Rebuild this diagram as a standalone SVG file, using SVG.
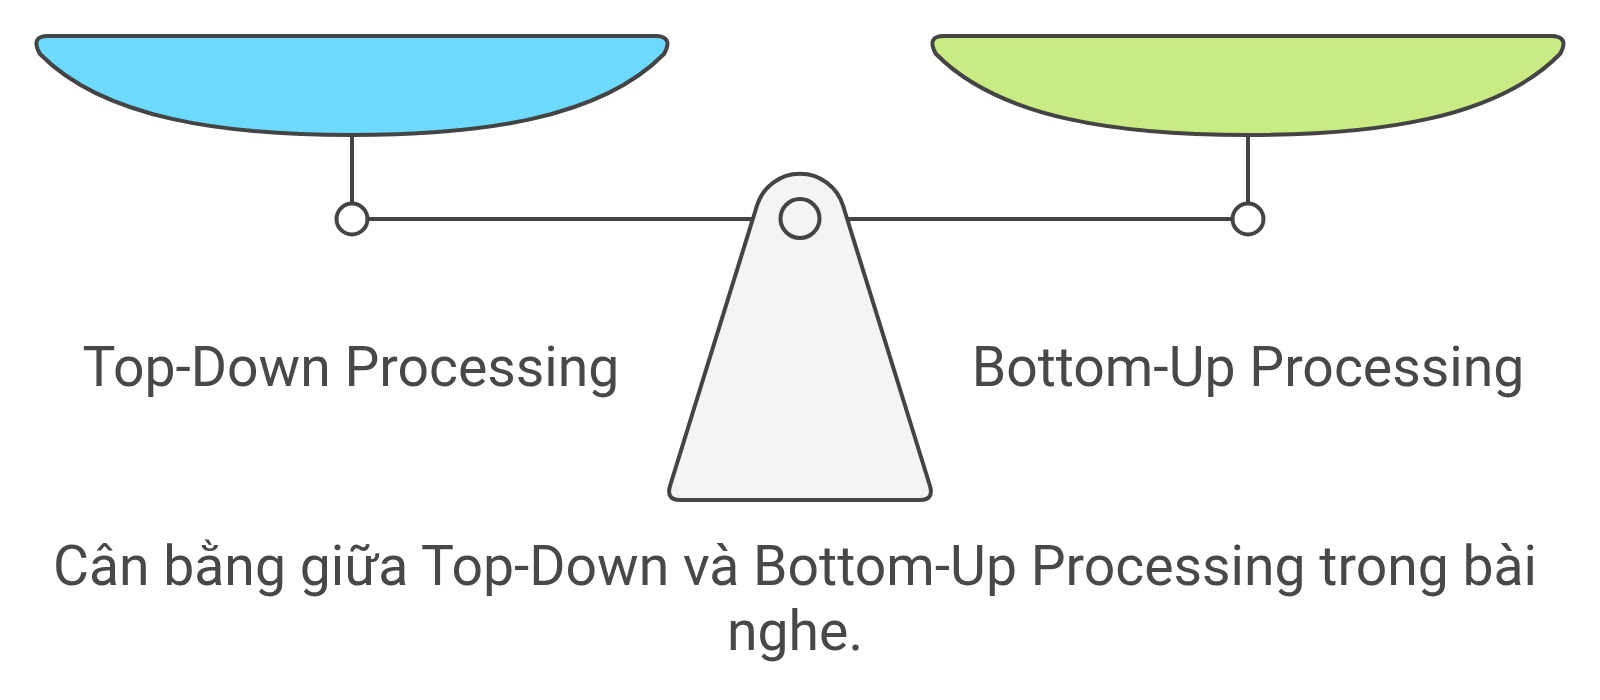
<svg xmlns="http://www.w3.org/2000/svg" width="1600" height="700" viewBox="0 0 1600 700">
  <style>
    .ln { fill: none; stroke: #444444; stroke-width: 4; stroke-linecap: round; stroke-linejoin: round; }
    .sh { stroke: #444444; stroke-width: 4; stroke-linejoin: round; }
    .ring { fill: #ffffff; stroke: #444444; stroke-width: 4; }
    .lbl { font-family: Roboto, "Liberation Sans", sans-serif; font-size: 55.3px; fill: #484848; text-anchor: middle; }
  </style>
  <rect width="1600" height="700" fill="#ffffff"/>
  <g id="connectors">
    <line class="ln" x1="352" y1="135" x2="352" y2="203"/>
    <line class="ln" x1="1248" y1="135" x2="1248" y2="203"/>
    <line class="ln" x1="368" y1="219" x2="757" y2="219"/>
    <line class="ln" x1="843" y1="219" x2="1232" y2="219"/>
  </g>
  <g id="pan-left">
    <path class="sh" fill="#6DD9FD" d="M 48,36 L 655,36 Q 674,36 664,54 C 600,119 480,135 352,135 C 224,135 104,119 40,54 Q 30,36 48,36 Z"/>
    <circle class="ring" cx="352" cy="219" r="15.5"/>
  </g>
  <g id="pan-right">
    <path class="sh" fill="#C9EB83" d="M 944,36 L 1551,36 Q 1570,36 1560,54 C 1496,119 1376,135 1248,135 C 1120,135 1000,119 936,54 Q 926,36 944,36 Z"/>
    <circle class="ring" cx="1248" cy="219" r="15.5"/>
  </g>
  <g id="fulcrum">
    <path class="sh" fill="#F4F4F4" d="M 757,205.5 A 45 45 0 0 1 843,205.5 L 930,486 Q 934,500 920,500 L 680,500 Q 666,500 670,486 Z"/>
    <circle class="sh" fill="#F4F4F4" cx="800" cy="218.5" r="19.5"/>
  </g>
  <g id="label-left">
    <text class="lbl" x="351" y="386">Top-Down Processing</text>
  </g>
  <g id="label-right">
    <text class="lbl" x="1248" y="386">Bottom-Up Processing</text>
  </g>
  <g id="caption">
    <text class="lbl" x="795" y="585">Cân bằng giữa Top-Down và Bottom-Up Processing trong bài</text>
    <text class="lbl" x="795" y="650">nghe.</text>
  </g>
</svg>
